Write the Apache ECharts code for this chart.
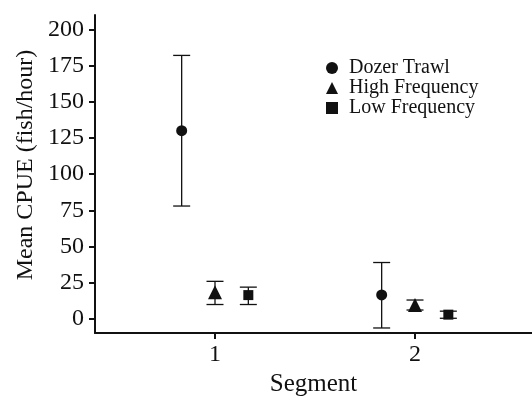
<!DOCTYPE html>
<html>
<head>
<meta charset="utf-8">
<script src="https://cdn.jsdelivr.net/npm/echarts@6/dist/echarts.min.js"></script>
<style>html,body{margin:0;padding:0;background:#fff}#c{width:532px;height:396px}</style>
</head>
<body>
<div id="c"></div>
<script>
var segments = [1, 2];
var seriesNames = ['Dozer Trawl', 'High Frequency', 'Low Frequency'];
var dozerMean = [130, 16.6];
var dozerLow = [78, -6.2];
var dozerHigh = [182, 39];
var highMean = [18.5, 9.7];
var highLow = [10, 6.2];
var highHigh = [26, 13.1];
var lowMean = [16.5, 3];
var lowLow = [10, 0.5];
var lowHigh = [22, 5.4];
var yTicks = [0, 25, 50, 75, 100, 125, 150, 175, 200];

var FONT = '"Liberation Serif", "DejaVu Serif", serif';
var dodge = 1 / 6;
var groups = [
  {name: seriesNames[0], mean: dozerMean, lo: dozerLow, hi: dozerHigh, off: -dodge, symbol: 'circle', size: 11},
  {name: seriesNames[1], mean: highMean, lo: highLow, hi: highHigh, off: 0, symbol: 'triangle', size: 14},
  {name: seriesNames[2], mean: lowMean, lo: lowLow, hi: lowHigh, off: dodge, symbol: 'rect', size: 10}
];

var series = [];
groups.forEach(function (g) {
  var errData = segments.map(function (s, i) { return [s + g.off, g.lo[i], g.hi[i]]; });
  series.push({
    type: 'custom',
    name: g.name + ' err',
    data: errData,
    silent: true,
    z: 2,
    renderItem: function (params, api) {
      var x = api.value(0);
      var lo = api.coord([x, api.value(1)]);
      var hi = api.coord([x, api.value(2)]);
      var hw = 8.5;
      var st = {stroke: '#111', lineWidth: 1.3};
      return {
        type: 'group',
        children: [
          {type: 'line', shape: {x1: lo[0], y1: lo[1], x2: hi[0], y2: hi[1]}, style: st},
          {type: 'line', shape: {x1: lo[0] - hw, y1: lo[1], x2: lo[0] + hw, y2: lo[1]}, style: st},
          {type: 'line', shape: {x1: hi[0] - hw, y1: hi[1], x2: hi[0] + hw, y2: hi[1]}, style: st}
        ]
      };
    }
  });
  series.push({
    type: 'scatter',
    name: g.name,
    symbol: g.symbol,
    symbolSize: g.size,
    z: 3,
    itemStyle: {color: '#111', opacity: 1},
    data: segments.map(function (s, i) { return [s + g.off, g.mean[i]]; })
  });
});

var chart = echarts.init(document.getElementById('c'), null, {renderer: 'canvas'});
chart.setOption({
  animation: false,
  backgroundColor: '#fff',
  grid: {left: 95, right: 0, top: 15, bottom: 63, containLabel: false, outerBoundsMode: 'none'},
  legend: {
    data: seriesNames.map(function (n, i) { return {name: n, icon: groups[i].symbol}; }),
    orient: 'vertical',
    left: 321,
    top: 53,
    itemWidth: 12,
    itemHeight: 12,
    itemGap: 0,
    textStyle: {fontFamily: FONT, fontSize: 20, color: '#111', lineHeight: 19, padding: [0, 0, 0, 6]},
    itemStyle: {color: '#111'}
  },
  xAxis: {
    type: 'value',
    min: 0.4,
    max: 2.585,
    name: 'Segment',
    nameLocation: 'middle',
    nameGap: 37,
    nameTextStyle: {fontFamily: FONT, fontSize: 25, color: '#111'},
    splitLine: {show: false},
    axisLine: {show: true, onZero: false, lineStyle: {color: '#111', width: 2}},
    axisTick: {show: true, customValues: segments, length: 6, lineStyle: {color: '#111', width: 2}},
    axisLabel: {customValues: segments, fontFamily: FONT, fontSize: 24, color: '#111', margin: 10}
  },
  yAxis: {
    type: 'value',
    min: -9.67,
    max: 209.9,
    splitLine: {show: false},
    axisLine: {show: true, onZero: false, lineStyle: {color: '#111', width: 2}},
    axisTick: {show: true, customValues: yTicks, length: 6, lineStyle: {color: '#111', width: 2}},
    axisLabel: {customValues: yTicks, fontFamily: FONT, fontSize: 24, color: '#111', margin: 11}
  },
  graphic: [{
    type: 'text',
    x: 26,
    y: 165,
    rotation: Math.PI / 2,
    style: {text: 'Mean CPUE (fish/hour)', fontFamily: FONT, fontSize: 24, fill: '#111', align: 'center', verticalAlign: 'middle'}
  }],
  series: series
});
</script>
</body>
</html>
